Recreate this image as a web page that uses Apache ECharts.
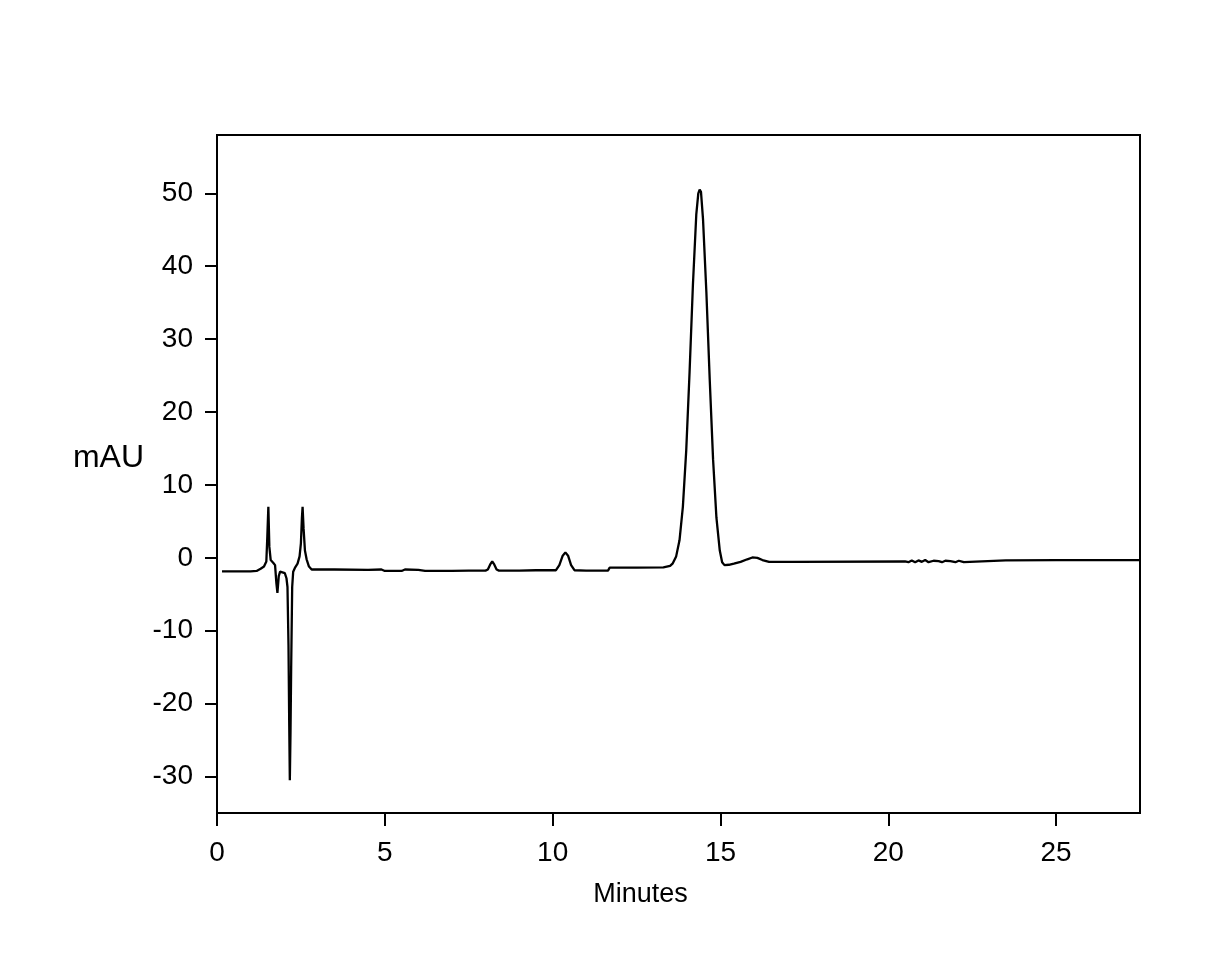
<!DOCTYPE html>
<html>
<head>
<meta charset="utf-8">
<script src="https://cdn.jsdelivr.net/npm/echarts@6/dist/echarts.min.js"></script>
<style>html,body{margin:0;padding:0;background:#fff}#c{width:1211px;height:980px}</style>
</head>
<body>
<div id="c"></div>
<script>
const minutes = [0.15,0.5,1.0,1.18,1.3,1.4,1.47,1.5,1.53,1.56,1.6,1.68,1.73,1.77,1.80,1.84,1.88,1.95,2.02,2.07,2.10,2.13,2.15,2.17,2.19,2.21,2.24,2.27,2.33,2.40,2.46,2.50,2.53,2.55,2.58,2.62,2.67,2.74,2.82,3.5,4.5,4.9,5.0,5.5,5.6,6.0,6.2,7.0,7.5,8.0,8.07,8.14,8.2,8.26,8.33,8.4,9.0,9.5,10.1,10.2,10.3,10.38,10.46,10.55,10.65,11.0,11.65,11.7,12.5,13.3,13.5,13.58,13.68,13.78,13.88,13.98,14.08,14.18,14.28,14.34,14.38,14.42,14.48,14.58,14.68,14.78,14.88,14.98,15.05,15.12,15.25,15.4,15.6,15.8,15.95,16.1,16.25,16.45,17.05,17.1,17.15,20.5,20.55,20.6,20.7,20.8,20.9,21.0,21.1,21.2,21.35,21.5,21.6,21.7,21.85,22.0,22.1,22.25,22.3,23.5,25.0,27.5];
const mAU = [-1.85,-1.85,-1.85,-1.8,-1.5,-1.2,-0.5,3.0,7.0,1.5,-0.3,-0.7,-1.0,-3.5,-4.8,-2.5,-1.9,-2.0,-2.1,-2.8,-4.0,-12.0,-22,-30.5,-24,-15,-4.0,-1.9,-1.3,-0.8,0.2,2.0,5.5,7.0,4.0,1.0,-0.2,-1.2,-1.6,-1.6,-1.65,-1.6,-1.8,-1.8,-1.6,-1.65,-1.8,-1.8,-1.75,-1.75,-1.6,-0.9,-0.5,-0.9,-1.6,-1.75,-1.75,-1.7,-1.7,-1.0,0.3,0.75,0.3,-1.0,-1.7,-1.75,-1.75,-1.35,-1.35,-1.3,-1.1,-0.75,0.2,2.4,7.0,14.7,25.5,37.5,47.1,50.0,50.5,50.2,46.5,36.5,24.5,13.5,5.5,1.0,-0.6,-1.0,-0.95,-0.8,-0.55,-0.2,0.05,0.0,-0.3,-0.55,-0.55,-0.35,-0.55,-0.5,-0.3,-0.6,-0.35,-0.6,-0.35,-0.55,-0.3,-0.6,-0.4,-0.45,-0.6,-0.4,-0.45,-0.6,-0.4,-0.6,-0.4,-0.35,-0.3,-0.3];
const yTicks = [-30,-20,-10,0,10,20,30,40,50];
const xTicks = [0,5,10,15,20,25];

const pts = minutes.map((t,i)=>[t,mAU[i]]);
const font = '"Liberation Sans", Arial, sans-serif';
const chart = echarts.init(document.getElementById('c'), null, {renderer:'canvas'});
chart.setOption({
  animation:false,
  backgroundColor:'#fff',
  grid:{left:217,right:71,top:135,bottom:167,show:true,borderColor:'#000',borderWidth:2,backgroundColor:'transparent'},
  xAxis:{
    type:'value',min:0,max:27.5,interval:5,
    name:'Minutes',nameLocation:'middle',nameGap:68,
    nameTextStyle:{fontFamily:font,fontSize:27,color:'#000',padding:[0,76,0,0]},
    axisLine:{show:true,onZero:false,lineStyle:{color:'#000',width:2}},
    axisTick:{show:true,length:13,lineStyle:{color:'#000',width:2}},
    axisLabel:{fontFamily:font,fontSize:28,color:'#000',margin:26,showMaxLabel:false},
    splitLine:{show:false}
  },
  yAxis:{
    type:'value',min:-35,max:58,
    name:'mAU',nameLocation:'middle',nameGap:73,nameRotate:0,
    nameTextStyle:{fontFamily:font,fontSize:32,color:'#000',align:'right',verticalAlign:'bottom'},
    axisLine:{show:true,onZero:false,lineStyle:{color:'#000',width:2}},
    axisTick:{show:true,length:12,customValues:yTicks,lineStyle:{color:'#000',width:2}},
    axisLabel:{fontFamily:font,fontSize:28,color:'#000',margin:24,customValues:yTicks},
    splitLine:{show:false}
  },
  series:[{
    type:'line',data:pts,showSymbol:false,symbol:'none',
    lineStyle:{color:'#000',width:2.3},
    clip:true
  }]
});
</script>
</body>
</html>
